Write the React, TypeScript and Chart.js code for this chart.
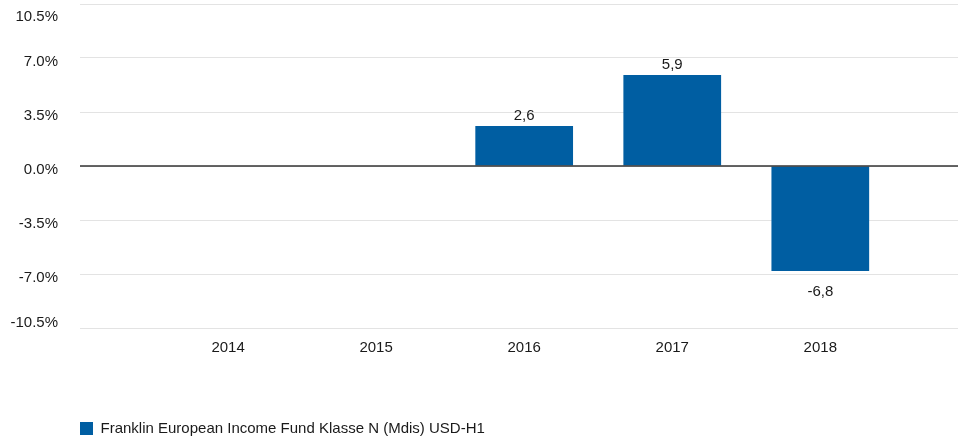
import React, { useEffect, useRef } from "react";
import { Chart, registerables } from "chart.js";

Chart.register(...registerables);

const years: string[] = ["2014", "2015", "2016", "2017", "2018"];
const returns: (number | null)[] = [null, null, 2.6, 5.9, -6.8];
const seriesLabel = "Franklin European Income Fund Klasse N (Mdis) USD-H1";
const yMin = -10.5;
const yMax = 10.5;
const yStep = 3.5;

const FONT = "'Liberation Sans', Arial, Helvetica, sans-serif";
const BAR_COLOR = "#005EA2";
const TEXT_COLOR = "#1a1a1a";

const valueLabels = {
  id: "valueLabels",
  afterDatasetsDraw(chart: any) {
    const ctx = chart.ctx;
    const meta = chart.getDatasetMeta(0);
    ctx.save();
    ctx.font = `15px ${FONT}`;
    ctx.fillStyle = TEXT_COLOR;
    ctx.textAlign = "center";
    ctx.textBaseline = "alphabetic";
    meta.data.forEach((bar: any, i: number) => {
      const v = returns[i];
      if (v === null || v === undefined) return;
      const text = v.toFixed(1).replace(".", ",");
      const y = v >= 0 ? bar.y - 6 : bar.y + 25;
      ctx.fillText(text, bar.x, y);
    });
    ctx.restore();
  },
};

const zeroLine = {
  id: "zeroLine",
  afterDatasetsDraw(chart: any) {
    const { ctx, chartArea, scales } = chart;
    const y = scales.y.getPixelForValue(0);
    ctx.save();
    ctx.strokeStyle = "#333333";
    ctx.lineWidth = 1.5;
    ctx.beginPath();
    ctx.moveTo(chartArea.left, y);
    ctx.lineTo(chartArea.right, y);
    ctx.stroke();
    ctx.restore();
  },
};

// align the legend's first item with the plot area's left edge
const legendAlign = {
  id: "legendAlign",
  afterLayout(chart: any) {
    const legend = chart.legend;
    if (legend) legend.left = chart.chartArea.left - 10;
  },
};

export default function App() {
  const canvasRef = useRef<HTMLCanvasElement | null>(null);

  useEffect(() => {
    if (!canvasRef.current) return;
    const chart = new Chart(canvasRef.current, {
      type: "bar",
      data: {
        datasets: [
          {
            label: seriesLabel,
            data: years.map((yr, i) => ({ x: Number(yr), y: returns[i] })) as any,
            backgroundColor: BAR_COLOR,
            borderWidth: 0,
            categoryPercentage: 1,
            barPercentage: 0.66,
          },
        ],
      },
      options: {
        responsive: false,
        animation: false,
        layout: { padding: { left: 0, right: 0, top: 4, bottom: -5 } },
        plugins: {
          tooltip: { enabled: false },
          legend: {
            display: true,
            position: "bottom",
            align: "start",
            labels: {
              boxWidth: 13,
              boxHeight: 13,
              padding: 10,
              color: TEXT_COLOR,
              font: { family: FONT, size: 15 },
            },
          },
        },
        scales: {
          x: {
            type: "linear",
            offset: false,
            min: Number(years[0]) - 1,
            max: Number(years[years.length - 1]) + 0.93,
            grid: { display: false, drawTicks: false, offset: false },
            border: { display: false },
            ticks: {
              stepSize: 1,
              includeBounds: false,
              autoSkip: false,
              maxRotation: 0,
              padding: 11,
              color: TEXT_COLOR,
              font: { family: FONT, size: 15 },
              callback: (value: any) => {
                const s = String(Math.round(Number(value)));
                return years.includes(s) ? s : null;
              },
            },
            afterFit: (scale: any) => {
              scale.height = 83;
            },
          },
          y: {
            type: "linear",
            min: yMin,
            max: yMax,
            grid: {
              color: "#e3e3e3",
              lineWidth: 1,
              drawTicks: false,
            },
            border: { display: false },
            ticks: {
              stepSize: yStep,
              padding: 22,
              labelOffset: 4,
              color: TEXT_COLOR,
              font: { family: FONT, size: 15 },
              callback: (value: any, index: number, ticks: any[]) => {
                const label = Number(value).toFixed(1) + "%";
                if (index === ticks.length - 1) return ["", label];
                if (index === 0) return [label, ""];
                return label;
              },
            },
            afterFit: (scale: any) => {
              scale.width = 80;
              scale.paddingTop = 0;
              scale.paddingBottom = 0;
            },
          },
        },
      },
      plugins: [valueLabels, zeroLine, legendAlign],
    });
    return () => chart.destroy();
  }, []);

  return (
    <div style={{ position: "fixed", left: 0, top: 0, width: 958, height: 441, background: "#fff" }}>
      <canvas ref={canvasRef} width={958} height={441} />
    </div>
  );
}
